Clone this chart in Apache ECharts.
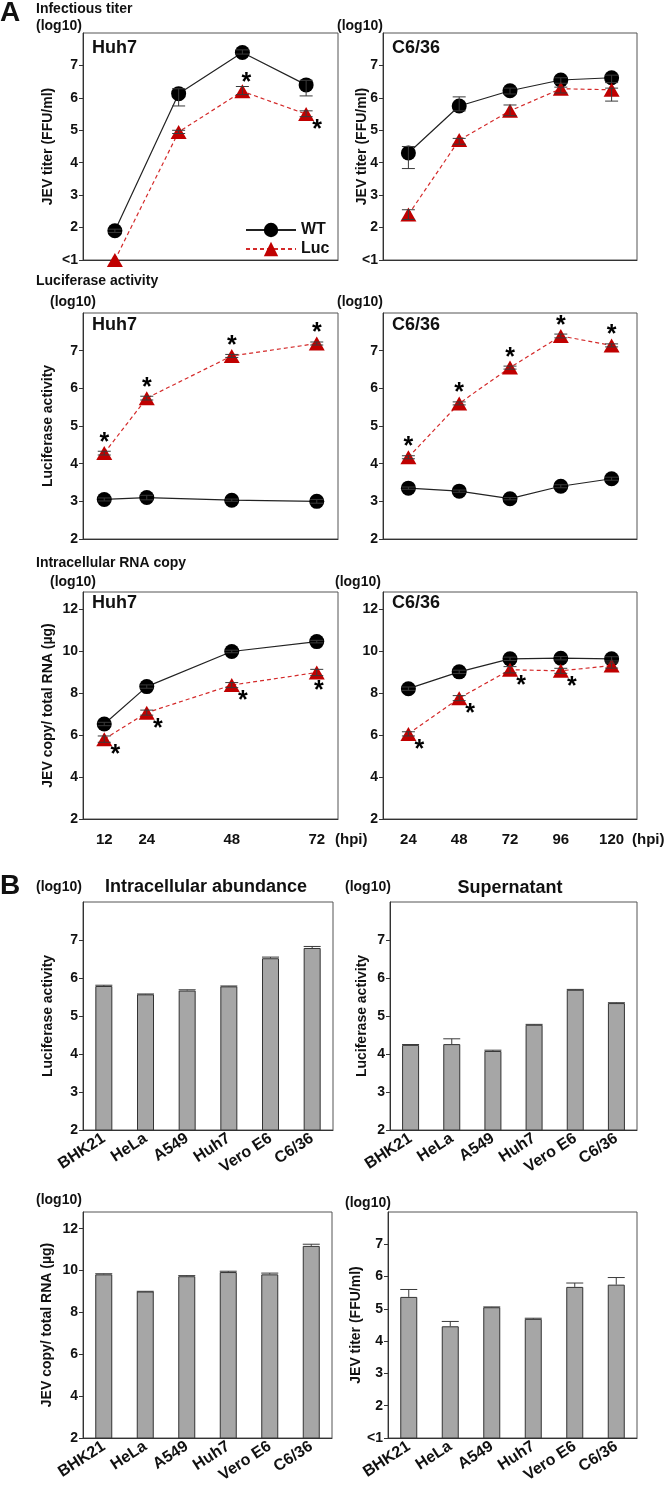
<!DOCTYPE html>
<html><head><meta charset="utf-8">
<script src="https://cdn.jsdelivr.net/npm/echarts@6/dist/echarts.min.js"></script>
<style>html,body{margin:0;padding:0;background:#fff}#c{width:666px;height:1487px}</style>
</head><body><div id="c"></div>
<script>
// ---------------- DATA ----------------
const hpiHuh7 = [12, 24, 48, 72];
const hpiC636 = [24, 48, 72, 96, 120];
const cellLines = ['BHK21', 'HeLa', 'A549', 'Huh7', 'Vero E6', 'C6/36'];

const titerTicks = [1, 2, 3, 4, 5, 6, 7];
const lucTicks = [2, 3, 4, 5, 6, 7];
const rnaTicks = [2, 4, 6, 8, 10, 12];

// Panel A: infectious titer (log10 FFU/ml); errors as [down, up]
const titerHuh7WT = [1.9, 6.13, 7.4, 6.4];
const titerHuh7WTErr = [[0.05, 0.05], [0.38, 0.15], [0.05, 0.08], [0.34, 0.14]];
const titerHuh7Luc = [1.0, 4.95, 6.2, 5.5];
const titerHuh7LucErr = [[0, 0], [0.05, 0.05], [0.1, 0.15], [0.08, 0.1]];
const titerHuh7Sig = ['', '', 'aboveRight', 'belowRight'];

const titerC636WT = [4.3, 5.75, 6.22, 6.55, 6.62];
const titerC636WTErr = [[0.48, 0.2], [0.15, 0.28], [0.1, 0.08], [0.1, 0.07], [0.15, 0.08]];
const titerC636Luc = [2.4, 4.7, 5.6, 6.28, 6.25];
const titerC636LucErr = [[0.15, 0.15], [0.13, 0.05], [0.15, 0.18], [0.13, 0.05], [0.35, 0.05]];

// Panel A: luciferase activity (log10)
const lucHuh7WT = [3.05, 3.1, 3.03, 3.0];
const lucHuh7WTErr = [[0.04, 0.04], [0.06, 0.06], [0.03, 0.03], [0.05, 0.05]];
const lucHuh7Luc = [4.28, 5.74, 6.86, 7.19];
const lucHuh7LucErr = [[0.05, 0.05], [0.05, 0.05], [0.04, 0.04], [0.04, 0.04]];
const lucHuh7Sig = ['above', 'above', 'above', 'above'];

const lucC636WT = [3.35, 3.27, 3.07, 3.4, 3.6];
const lucC636WTErr = [[0.03, 0.03], [0.03, 0.03], [0.03, 0.03], [0.04, 0.04], [0.04, 0.04]];
const lucC636Luc = [4.17, 5.6, 6.55, 7.39, 7.14];
const lucC636LucErr = [[0.04, 0.04], [0.04, 0.04], [0.04, 0.04], [0.05, 0.05], [0.04, 0.04]];
const lucC636Sig = ['above', 'above', 'above', 'above', 'above'];

// Panel A: intracellular RNA copy (log10 per µg total RNA)
const rnaHuh7WT = [6.52, 8.3, 9.97, 10.44];
const rnaHuh7WTErr = [[0.08, 0.08], [0.08, 0.08], [0.06, 0.06], [0.06, 0.06]];
const rnaHuh7Luc = [5.8, 7.06, 8.37, 8.97];
const rnaHuh7LucErr = [[0.15, 0.15], [0.12, 0.12], [0.12, 0.12], [0.15, 0.15]];
const rnaHuh7Sig = ['belowRight', 'belowRight', 'belowRight', 'below'];

const rnaC636WT = [8.2, 9.0, 9.62, 9.65, 9.62];
const rnaC636WTErr = [[0.08, 0.08], [0.08, 0.08], [0.08, 0.08], [0.08, 0.08], [0.1, 0.1]];
const rnaC636Luc = [6.05, 7.75, 9.1, 9.05, 9.3];
const rnaC636LucErr = [[0.1, 0.1], [0.12, 0.12], [0.15, 0.15], [0.12, 0.12], [0.12, 0.12]];
const rnaC636Sig = ['belowRight', 'belowRight', 'belowRight', 'belowRight', ''];

// Panel B: 6 cell lines (bars, upward error)
const intraLuc = [5.79, 5.57, 5.67, 5.78, 6.52, 6.79];
const intraLucErr = [0.02, 0.01, 0.02, 0.01, 0.03, 0.04];
const superLuc = [4.24, 4.26, 4.08, 4.77, 5.69, 5.34];
const superLucErr = [0.01, 0.14, 0.02, 0.01, 0.01, 0.01];
const intraRna = [9.82, 9.0, 9.73, 9.93, 9.82, 11.18];
const intraRnaErr = [0.03, 0.01, 0.03, 0.04, 0.06, 0.08];
const superTiter = [5.37, 4.46, 5.05, 4.69, 5.68, 5.75];
const superTiterErr = [0.23, 0.15, 0.01, 0.02, 0.12, 0.22];

// ---------------- STYLE ----------------
const FONT = "'Liberation Sans', Arial, Helvetica, sans-serif";
const WT_COLOR = '#000000';
const LUC_COLOR = '#c00000';
const ERR_COLOR = '#3a3a3a';
const SIG_OFFSET = {
  above: [0, -10],
  aboveRight: [4, -8],
  belowRight: [11, 16],
  below: [2, 19]
};

const gridBoxes = [
  {left: 83, top: 33, width: 255, height: 227},
  {left: 383, top: 33, width: 254, height: 227},
  {left: 83, top: 313, width: 255, height: 226},
  {left: 383, top: 313, width: 254, height: 226},
  {left: 83, top: 592, width: 255, height: 227},
  {left: 383, top: 592, width: 254, height: 227},
  {left: 83, top: 902, width: 250, height: 228},
  {left: 390, top: 902, width: 247, height: 228},
  {left: 83, top: 1212, width: 249, height: 226},
  {left: 388, top: 1212, width: 249, height: 226}
];
const grids = gridBoxes.map(g => Object.assign({show: true, borderColor: '#555', borderWidth: 1, backgroundColor: 'transparent'}, g));

const txt = {fontFamily: FONT, fontWeight: 'bold', color: '#111'};

function yAx(gi, min, max, ticks, name, nameGap, lt1, noMove) {
  return {
    type: 'value', gridIndex: gi, min: min, max: max,
    axisLine: {show: true, lineStyle: {color: '#333', width: 1}},
    axisTick: {show: true, inside: false, length: 4, lineStyle: {color: '#333'}, customValues: ticks},
    axisLabel: Object.assign({show: true, margin: 5, fontSize: 14, customValues: ticks,
      formatter: v => (lt1 && v === 1) ? '<1' : (ticks.indexOf(v) >= 0 ? String(v) : '')}, txt),
    splitLine: {show: false},
    name: name || '', nameLocation: 'middle', nameGap: nameGap, nameRotate: 90,
    nameMoveOverlap: !noMove,
    nameTextStyle: Object.assign({fontSize: 14}, txt)
  };
}
const noLab = {show: false};
function xCat(gi, cats, labels, rotate) {
  return {
    type: 'category', gridIndex: gi, data: cats.map(String), boundaryGap: true,
    axisLine: {show: true, lineStyle: {color: '#333'}},
    axisTick: {show: false},
    axisLabel: labels ? Object.assign({show: true, interval: 0, rotate: rotate || 0, margin: rotate ? 7 : 13, fontSize: rotate ? 16 : 15}, txt) : noLab,
    splitLine: {show: false}
  };
}
function xVal(gi, labels) {
  return {
    type: 'value', gridIndex: gi, min: 6, max: 78,
    axisLine: {show: true, lineStyle: {color: '#333'}},
    axisTick: {show: false},
    axisLabel: labels ? Object.assign({show: true, margin: 13, fontSize: 15, customValues: hpiHuh7,
      formatter: v => hpiHuh7.indexOf(v) >= 0 ? String(v) : ''}, txt) : noLab,
    splitLine: {show: false}
  };
}

const xAxes = [
  xCat(0, hpiHuh7, false),
  xCat(1, hpiC636, false),
  xVal(2, false),
  xCat(3, hpiC636, false),
  xVal(4, true),
  xCat(5, hpiC636, true),
  xCat(6, cellLines, true, 33),
  xCat(7, cellLines, true, 33),
  xCat(8, cellLines, true, 33),
  xCat(9, cellLines, true, 33)
];
const yAxes = [
  yAx(0, 1, 8, titerTicks, 'JEV titer (FFU/ml)', 28, true),
  yAx(1, 1, 8, titerTicks, 'JEV titer (FFU/ml)', 14, true, true),
  yAx(2, 2, 8, lucTicks, 'Luciferase activity', 28, false),
  yAx(3, 2, 8, lucTicks, '', 20, false),
  yAx(4, 2, 12.8, rnaTicks, 'JEV copy/ total RNA (µg)', 28, false),
  yAx(5, 2, 12.8, rnaTicks, '', 20, false),
  yAx(6, 2, 8, lucTicks, 'Luciferase activity', 28, false),
  yAx(7, 2, 8, lucTicks, 'Luciferase activity', 21, false),
  yAx(8, 2, 12.8, rnaTicks, 'JEV copy/ total RNA (µg)', 29, false),
  yAx(9, 1, 8, titerTicks, 'JEV titer (FFU/ml)', 25, true)
];

const series = [];
function errRender(capHalf) {
  return function (params, api) {
    const x = api.value(0), y = api.value(1), dn = api.value(2), up = api.value(3);
    const pLo = api.coord([x, y - dn]), pHi = api.coord([x, y + up]);
    const st = {stroke: ERR_COLOR, lineWidth: 1, fill: null};
    const ch = [{type: 'line', shape: {x1: pLo[0], y1: pLo[1], x2: pHi[0], y2: pHi[1]}, style: st}];
    if (up > 0) ch.push({type: 'line', shape: {x1: pHi[0] - capHalf, y1: pHi[1], x2: pHi[0] + capHalf, y2: pHi[1]}, style: st});
    if (dn > 0) ch.push({type: 'line', shape: {x1: pLo[0] - capHalf, y1: pLo[1], x2: pLo[0] + capHalf, y2: pLo[1]}, style: st});
    return {type: 'group', children: ch};
  };
}
function addLinePanel(gi, xs, useValueX, wt, wtErr, luc, lucErr, sig) {
  const xOf = i => useValueX ? xs[i] : i;
  series.push({
    name: 'WT', type: 'line', xAxisIndex: gi, yAxisIndex: gi, clip: false,
    data: wt.map((y, i) => [xOf(i), y]),
    symbol: 'circle', symbolSize: 15, itemStyle: {color: WT_COLOR},
    lineStyle: {color: '#222', width: 1.2}, z: 2
  });
  series.push({
    name: 'Luc', type: 'line', xAxisIndex: gi, yAxisIndex: gi, clip: false,
    data: luc.map((y, i) => {
      const it = {value: [xOf(i), y]};
      const s = sig && sig[i];
      if (s) it.label = Object.assign({show: true, formatter: '*', position: 'inside', offset: SIG_OFFSET[s], fontSize: 25, color: '#000'}, {fontFamily: FONT, fontWeight: 'bold'});
      return it;
    }),
    symbol: 'triangle', symbolSize: [16, 14], itemStyle: {color: LUC_COLOR},
    lineStyle: {color: '#d42a2a', width: 1.2, type: [4, 3]}, z: 3
  });
  [[wt, wtErr], [luc, lucErr]].forEach(([v, e]) => {
    series.push({
      type: 'custom', xAxisIndex: gi, yAxisIndex: gi, clip: false, z: 4, silent: true,
      renderItem: errRender(6.5),
      encode: {x: 0, y: 1},
      data: v.map((y, i) => [xOf(i), y, e[i][0], e[i][1]])
    });
  });
}
addLinePanel(0, hpiHuh7, false, titerHuh7WT, titerHuh7WTErr, titerHuh7Luc, titerHuh7LucErr, titerHuh7Sig);
addLinePanel(1, hpiC636, false, titerC636WT, titerC636WTErr, titerC636Luc, titerC636LucErr, null);
addLinePanel(2, hpiHuh7, true, lucHuh7WT, lucHuh7WTErr, lucHuh7Luc, lucHuh7LucErr, lucHuh7Sig);
addLinePanel(3, hpiC636, false, lucC636WT, lucC636WTErr, lucC636Luc, lucC636LucErr, lucC636Sig);
addLinePanel(4, hpiHuh7, true, rnaHuh7WT, rnaHuh7WTErr, rnaHuh7Luc, rnaHuh7LucErr, rnaHuh7Sig);
addLinePanel(5, hpiC636, false, rnaC636WT, rnaC636WTErr, rnaC636Luc, rnaC636LucErr, rnaC636Sig);

function addBarPanel(gi, vals, errs) {
  series.push({
    type: 'bar', xAxisIndex: gi, yAxisIndex: gi, data: vals, barWidth: 17,
    itemStyle: {color: '#a6a6a6', borderColor: '#333', borderWidth: 1}, z: 2
  });
  series.push({
    type: 'custom', xAxisIndex: gi, yAxisIndex: gi, clip: false, z: 4, silent: true,
    renderItem: errRender(8.5), encode: {x: 0, y: 1},
    data: vals.map((v, i) => [i, v, 0, errs[i]])
  });
}
addBarPanel(6, intraLuc, intraLucErr);
addBarPanel(7, superLuc, superLucErr);
addBarPanel(8, intraRna, intraRnaErr);
addBarPanel(9, superTiter, superTiterErr);

function T(x, y, text, size, align) {
  return {type: 'text', x: x, y: y, silent: true, z: 10,
    style: {text: text, fontSize: size || 14, fontWeight: 'bold', fontFamily: FONT, fill: '#111',
      align: align || 'left', verticalAlign: 'middle'}};
}
const graphics = [
  T(0, 13, 'A', 28), T(36, 9, 'Infectious titer'), T(36, 26, '(log10)'), T(337, 26, '(log10)'),
  T(36, 281, 'Luciferase activity'), T(50, 302, '(log10)'), T(337, 302, '(log10)'),
  T(36, 563, 'Intracellular RNA copy'), T(50, 582, '(log10)'), T(335, 582, '(log10)'),
  T(335, 840, '(hpi)', 15), T(632, 840, '(hpi)', 15),
  T(0, 886, 'B', 28), T(36, 887, '(log10)'), T(105, 887, 'Intracellular abundance', 18),
  T(345, 887, '(log10)'), T(510, 888, 'Supernatant', 18, 'center'),
  T(36, 1200, '(log10)'), T(345, 1203, '(log10)'),
  T(92, 48, 'Huh7', 18), T(392, 48, 'C6/36', 18),
  T(92, 325, 'Huh7', 18), T(392, 325, 'C6/36', 18),
  T(92, 603, 'Huh7', 18), T(392, 603, 'C6/36', 18)
];

const chart = echarts.init(document.getElementById('c'), null, {renderer: 'canvas'});
chart.setOption({
  animation: false,
  backgroundColor: '#fff',
  grid: grids,
  xAxis: xAxes,
  yAxis: yAxes,
  legend: {
    data: ['WT', 'Luc'], orient: 'vertical', left: 240, top: 217,
    itemWidth: 50, itemHeight: 18, itemGap: 3, selectedMode: false,
    textStyle: {fontFamily: FONT, fontWeight: 'bold', fontSize: 16, color: '#111'}
  },
  graphic: graphics,
  series: series
});
</script>
</body></html>
